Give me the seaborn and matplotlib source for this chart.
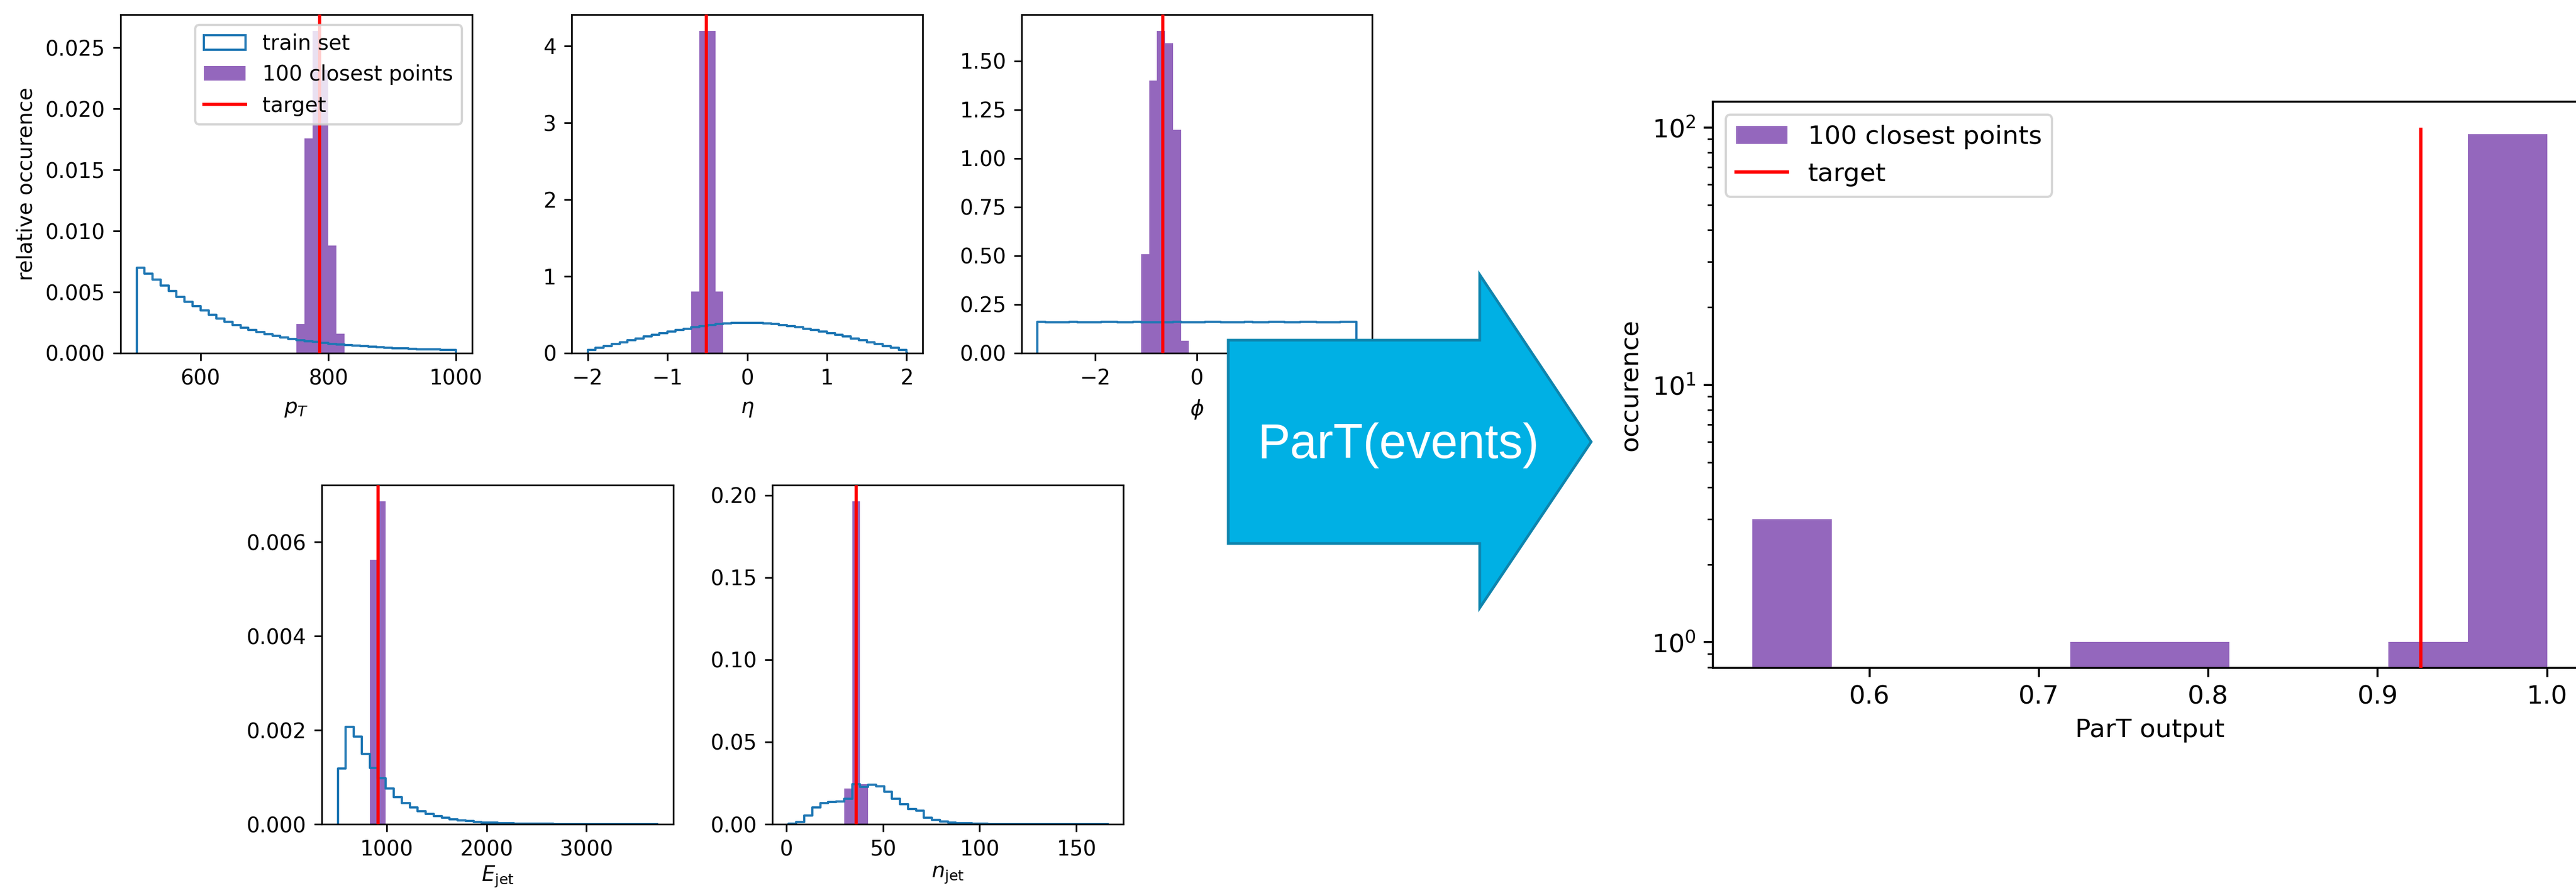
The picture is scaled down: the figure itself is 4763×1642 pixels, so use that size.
import numpy as np
import matplotlib
matplotlib.use("Agg")
import matplotlib.pyplot as plt
from matplotlib.patches import Patch, Polygon
from matplotlib.lines import Line2D
from matplotlib.ticker import MultipleLocator
import seaborn as sns

# ---------------- data ----------------
# transverse momentum
pt_range = (500.0, 1000.0, 40)
pt_train_density = [0.00700, 0.00652, 0.00603, 0.00555, 0.00508, 0.00462, 0.00422, 0.00384,
                    0.00348, 0.00316, 0.00285, 0.00258, 0.00232, 0.00210, 0.00190, 0.00172,
                    0.00155, 0.00140, 0.00127, 0.00115, 0.00108, 0.00099, 0.00091, 0.00084,
                    0.00077, 0.00071, 0.00066, 0.00061, 0.00056, 0.00052, 0.00048, 0.00045,
                    0.00042, 0.00039, 0.00036, 0.00033, 0.00031, 0.00029, 0.00027, 0.00025]
pt_close_bins = [20, 21, 22, 23, 24, 25]
pt_close_counts = [3, 22, 33, 29, 11, 2]
pt_target = 786.5

# pseudorapidity
eta_range = (-2.0, 2.0, 40)
eta_train_density = [0.043, 0.068, 0.093, 0.118, 0.143, 0.168, 0.193, 0.217, 0.240, 0.262,
                     0.283, 0.302, 0.320, 0.337, 0.352, 0.366, 0.377, 0.386, 0.392, 0.395,
                     0.396, 0.393, 0.387, 0.378, 0.366, 0.352, 0.337, 0.320, 0.301, 0.282,
                     0.261, 0.239, 0.216, 0.192, 0.167, 0.142, 0.117, 0.092, 0.067, 0.042]
eta_close_bins = [13, 14, 15, 16]
eta_close_counts = [8, 42, 42, 8]
eta_target = -0.51

# azimuth
phi_range = (-np.pi, np.pi, 40)
phi_train_density = [0.160, 0.159, 0.158, 0.159, 0.160, 0.159, 0.158, 0.159, 0.160, 0.160,
                     0.159, 0.159, 0.160, 0.159, 0.158, 0.159, 0.159, 0.160, 0.159, 0.158,
                     0.159, 0.160, 0.160, 0.159, 0.158, 0.159, 0.160, 0.159, 0.159, 0.160,
                     0.160, 0.159, 0.159, 0.160, 0.160, 0.159, 0.158, 0.159, 0.160, 0.160]
phi_close_bins = [13, 14, 15, 16, 17, 18]
phi_close_counts = [8, 22, 26, 25, 18, 1]
phi_target = -0.671

# jet energy
ejet_range = (508.0, 3712.0, 40)
ejet_train_density = [0.00118, 0.00207, 0.00186, 0.00150, 0.00120, 0.00098, 0.00076, 0.00057,
                      0.000446, 0.000354, 0.000272, 0.000214, 0.000168, 0.000133, 0.000104,
                      0.000081, 0.000064, 0.000050, 0.000040, 0.000031, 0.000024, 0.000019,
                      0.000015, 0.000012, 0.000009, 0.000007, 0.000006, 0.000005, 0.000004,
                      0.000003, 0.000003, 0.000002, 0.000002, 0.000002, 0.000001, 0.000001,
                      0.000001, 0.000001, 0.000001, 0.000001]
ejet_close_bins = [4, 5]
ejet_close_counts = [45, 55]
ejet_target = 912.0

# jet multiplicity
njet_range = (1.0, 166.0, 40)
njet_train_density = [0.0002, 0.0013, 0.0053, 0.0103, 0.0129, 0.0134, 0.0139, 0.0156, 0.0244,
                      0.0226, 0.0239, 0.0231, 0.0197, 0.0156, 0.0123, 0.0093, 0.0081, 0.0041,
                      0.0027, 0.0017, 0.0010, 0.0007, 0.0005, 0.0003, 0.0002, 0.00015, 0.0001,
                      0.00008, 0.00006, 0.00004, 0.00003, 0.00002, 0.00002, 0.00001, 0.00001,
                      0.00001, 0.00001, 0.00001, 0.00001, 0.00001]
njet_close_bins = [7, 8, 9]
njet_close_counts = [9, 81, 10]
njet_target = 36.0

# ParT output of the 100 closest points
part_range = (0.531, 1.0, 10)
part_counts = [3, 0, 0, 0, 1, 1, 0, 0, 1, 94]
part_target = 0.9256
part_target_height = 100

# ---------------- styling ----------------
W, H, DPI = 4763, 1642, 300
BLUE = "#1f77b4"
PURPLE = "#9467bd"
RED = "red"
FS_SMALL = 9.3
FS_BIG = 11.4

fig = plt.figure(figsize=(W / DPI, H / DPI), dpi=DPI)
fig.patch.set_facecolor("white")


def px_axes(x0, y0, x1, y1):
    return fig.add_axes([x0 / W, 1 - y1 / H, (x1 - x0) / W, (y1 - y0) / H])


def edges_of(rng):
    return np.linspace(rng[0], rng[1], rng[2] + 1)


def draw_panel(ax, rng, train_density, close_bins, close_counts, target, xlabel, lpad=4.0):
    edges = edges_of(rng)
    centers = 0.5 * (edges[:-1] + edges[1:])
    # 100 closest points (same binning as the training set)
    cb = np.array(close_bins)
    c_edges = np.append(edges[cb], edges[cb[-1] + 1])
    sns.histplot(x=list(centers[cb]), weights=list(close_counts), bins=list(c_edges),
                 stat="density", element="bars", color=PURPLE, alpha=1.0, linewidth=0,
                 edgecolor="none", ax=ax, zorder=1)
    # train set outline (closed down to zero at both ends)
    eps = (edges[-1] - edges[0]) * 1e-6
    padded = np.concatenate([[edges[0] - eps], edges, [edges[-1] + eps]])
    sns.histplot(x=list(centers), weights=list(train_density), bins=list(padded),
                 stat="count", element="step", fill=False, color=BLUE, linewidth=1.0,
                 alpha=1.0, ax=ax, zorder=2)
    ax.axvline(target, color=RED, lw=1.4, zorder=3)
    ax.set_ylim(bottom=0)
    ax.set_xlabel(xlabel, fontsize=FS_SMALL, labelpad=lpad)
    ax.set_ylabel("")
    ax.tick_params(labelsize=FS_SMALL, length=3.3, width=0.75)
    for s in ax.spines.values():
        s.set_linewidth(0.75)


ax_pt = px_axes(223, 27, 873, 653)
draw_panel(ax_pt, pt_range, pt_train_density, pt_close_bins, pt_close_counts,
           pt_target, r"$p_T$")
ax_pt.set_ylabel("relative occurence", fontsize=FS_SMALL)
ax_pt.legend(handles=[Patch(facecolor="none", edgecolor=BLUE, lw=1.0, label="train set"),
                      Patch(facecolor=PURPLE, label="100 closest points"),
                      Line2D([], [], color=RED, lw=1.4, label="target")],
             loc="upper right", fontsize=FS_SMALL)

ax_eta = px_axes(1057, 27, 1706, 653)
draw_panel(ax_eta, eta_range, eta_train_density, eta_close_bins, eta_close_counts,
           eta_target, r"$\eta$")

ax_phi = px_axes(1889, 27, 2537, 653)
draw_panel(ax_phi, phi_range, phi_train_density, phi_close_bins, phi_close_counts,
           phi_target, r"$\phi$")

ax_e = px_axes(595, 897, 1245, 1524)
draw_panel(ax_e, ejet_range, ejet_train_density, ejet_close_bins, ejet_close_counts,
           ejet_target, r"$E_\mathrm{jet}$", lpad=2.0)
ax_e.yaxis.set_major_locator(MultipleLocator(0.002))

ax_n = px_axes(1428, 897, 2077, 1524)
draw_panel(ax_n, njet_range, njet_train_density, njet_close_bins, njet_close_counts,
           njet_target, r"$n_\mathrm{jet}$", lpad=2.0)

# ---------------- right panel: ParT output ----------------
ax_r = px_axes(3167, 188, 4783, 1235)
ax_r.set_yscale("log")
p_edges = edges_of(part_range)
p_centers = 0.5 * (p_edges[:-1] + p_edges[1:])
sns.histplot(x=list(p_centers), weights=list(part_counts), bins=list(p_edges), stat="count",
             element="bars", color=PURPLE, alpha=1.0, linewidth=0, edgecolor="none",
             ax=ax_r, zorder=1)
ax_r.vlines(part_target, 0, part_target_height, color=RED, lw=1.5, zorder=3)
ax_r.set_ylim(10 ** -0.1, 10 ** 2.1)
ax_r.set_xlabel("ParT output", fontsize=FS_BIG)
ax_r.set_ylabel("occurence", fontsize=FS_BIG)
ax_r.tick_params(which="both", labelsize=FS_BIG)
ax_r.tick_params(which="major", length=4.0, width=0.9)
ax_r.tick_params(which="minor", length=2.3, width=0.7)
for s in ax_r.spines.values():
    s.set_linewidth(0.9)
ax_r.legend(handles=[Patch(facecolor=PURPLE, label="100 closest points"),
                     Line2D([], [], color=RED, lw=1.5, label="target")],
            loc="upper left", fontsize=FS_BIG)

# ---------------- arrow with label ----------------
arrow_px = [(2271, 629), (2736, 629), (2736, 508), (2942, 817),
            (2736, 1124), (2736, 1005), (2271, 1005)]
arrow_pts = [(x / W, 1 - y / H) for x, y in arrow_px]
fig.add_artist(Polygon(arrow_pts, closed=True, transform=fig.transFigure,
                       facecolor="#00B0E4", edgecolor="#0E84AD", lw=1.2, zorder=10))
fig.text(2586 / W, 1 - 847 / H, "ParT(events)", ha="center", va="baseline",
         color="white", fontsize=21.6, family=["Liberation Sans", "DejaVu Sans"],
         zorder=11)

fig.savefig("out.png", dpi=DPI)
